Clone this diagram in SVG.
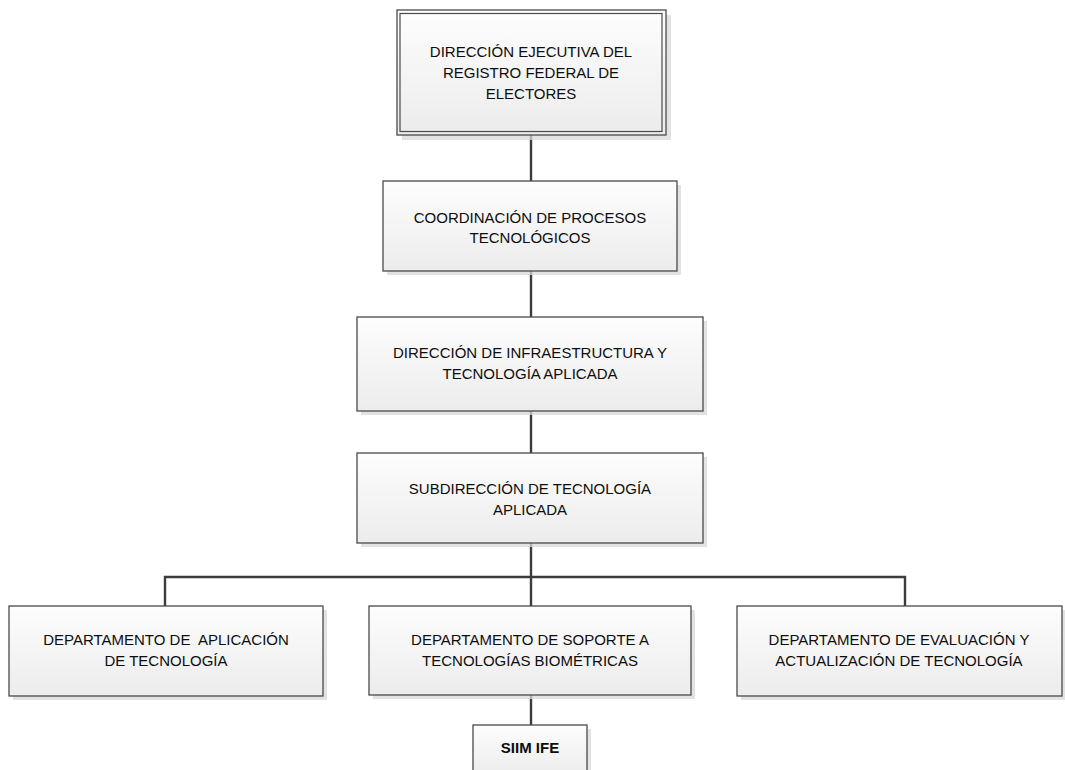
<svg xmlns="http://www.w3.org/2000/svg" width="1065" height="770" viewBox="0 0 1065 770">
  <defs>
    <linearGradient id="boxFill" x1="0" y1="0" x2="0" y2="1">
      <stop offset="0" stop-color="#fdfdfd"/>
      <stop offset="1" stop-color="#ececec"/>
    </linearGradient>
  </defs>
  <style>
    .shadow { fill: #d8d8d8; opacity: 0.75; }
    .box { fill: url(#boxFill); stroke: #4a4a4a; stroke-width: 1.3; }
    .inner { fill: none; stroke: #4a4a4a; stroke-width: 1.2; }
    .label { font-family: "Liberation Sans", Arial, sans-serif; font-size: 15px; fill: #0d0d0d; text-anchor: middle; }
    .bold { font-weight: bold; }
    .link { fill: none; stroke: #3c3c3c; stroke-width: 2.4; }
  </style>
  <rect width="1065" height="770" fill="#ffffff"/>

  <!-- connectors -->
  <g id="connectors">
    <line class="link" x1="531" y1="135" x2="531" y2="181"/>
    <line class="link" x1="531" y1="271" x2="531" y2="317"/>
    <line class="link" x1="531" y1="411" x2="531" y2="453"/>
    <line class="link" x1="531" y1="543" x2="531" y2="577"/>
    <polyline class="link" points="165,606 165,577 905,577 905,606"/>
    <line class="link" x1="531" y1="577" x2="531" y2="606"/>
    <line class="link" x1="531" y1="695" x2="531" y2="725"/>
  </g>

  <!-- top level -->
  <g id="dir-ejecutiva">
    <rect class="shadow" x="402" y="15" width="269" height="125"/>
    <rect class="box" x="397" y="10" width="269" height="125"/>
    <rect class="inner" x="400" y="13.5" width="262" height="118"/>
    <text class="label" x="531" y="57">DIRECCIÓN EJECUTIVA DEL</text>
    <text class="label" x="531" y="78">REGISTRO FEDERAL DE</text>
    <text class="label" x="531" y="99">ELECTORES</text>
  </g>

  <g id="coord-procesos">
    <rect class="shadow" x="387" y="185" width="294" height="90"/>
    <rect class="box" x="383" y="181" width="294" height="90"/>
    <text class="label" x="530" y="223">COORDINACIÓN DE PROCESOS</text>
    <text class="label" x="530" y="243">TECNOLÓGICOS</text>
  </g>

  <g id="dir-infraestructura">
    <rect class="shadow" x="361" y="321" width="346" height="94"/>
    <rect class="box" x="357" y="317" width="346" height="94"/>
    <text class="label" x="530" y="358">DIRECCIÓN DE INFRAESTRUCTURA Y</text>
    <text class="label" x="530" y="379">TECNOLOGÍA APLICADA</text>
  </g>

  <g id="subdir-tecnologia">
    <rect class="shadow" x="361" y="457" width="346" height="90"/>
    <rect class="box" x="357" y="453" width="346" height="90"/>
    <text class="label" x="530" y="494">SUBDIRECCIÓN DE TECNOLOGÍA</text>
    <text class="label" x="530" y="515">APLICADA</text>
  </g>

  <!-- departments -->
  <g id="depto-aplicacion">
    <rect class="shadow" x="13" y="610" width="314" height="90"/>
    <rect class="box" x="9" y="606" width="314" height="90"/>
    <text class="label" x="166" y="645" xml:space="preserve">DEPARTAMENTO DE  APLICACIÓN</text>
    <text class="label" x="166" y="666">DE TECNOLOGÍA</text>
  </g>

  <g id="depto-soporte">
    <rect class="shadow" x="373" y="610" width="322" height="89"/>
    <rect class="box" x="369" y="606" width="322" height="89"/>
    <text class="label" x="530" y="645">DEPARTAMENTO DE SOPORTE A</text>
    <text class="label" x="530" y="666">TECNOLOGÍAS BIOMÉTRICAS</text>
  </g>

  <g id="depto-evaluacion">
    <rect class="shadow" x="741" y="610" width="325" height="90"/>
    <rect class="box" x="737" y="606" width="325" height="90"/>
    <text class="label" x="899" y="645">DEPARTAMENTO DE EVALUACIÓN Y</text>
    <text class="label" x="899" y="666">ACTUALIZACIÓN DE TECNOLOGÍA</text>
  </g>

  <g id="siim-ife">
    <rect class="shadow" x="477" y="729" width="114" height="50"/>
    <rect class="box" x="473" y="725" width="114" height="50"/>
    <text class="label bold" x="530" y="753">SIIM IFE</text>
  </g>
</svg>
